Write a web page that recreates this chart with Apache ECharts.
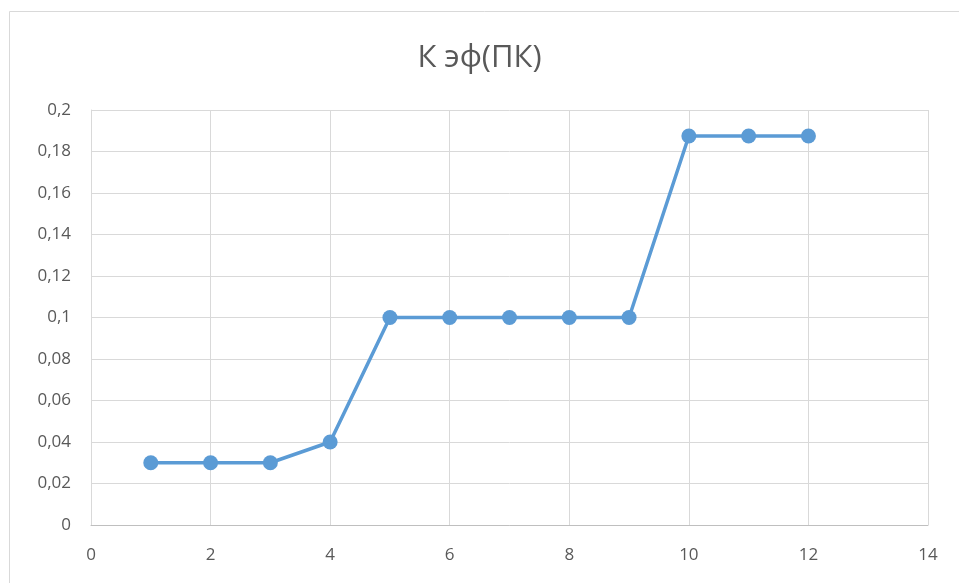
<!DOCTYPE html>
<html>
<head>
<meta charset="utf-8">
<script src="https://cdn.jsdelivr.net/npm/echarts@6/dist/echarts.min.js"></script>
<style>
  html, body { margin: 0; padding: 0; background: #fff; }
  #chart { width: 959px; height: 583px; }
</style>
</head>
<body>
<div id="chart"></div>
<script>
// values
var xValues = [1, 2, 3, 4, 5, 6, 7, 8, 9, 10, 11, 12]
var kEff = [0.03, 0.03, 0.03, 0.04, 0.1, 0.1, 0.1, 0.1, 0.1, 0.1875, 0.1875, 0.1875]
var titleText = 'К эф(ПК)'

var chart = echarts.init(document.getElementById('chart'))
var font = '"Open Sans", "Noto Sans", sans-serif'

chart.setOption({
  animation: false,
  title: {
    text: titleText,
    left: 'center',
    top: 38,
    textStyle: { fontFamily: font, fontSize: 31, fontWeight: 'normal', color: '#595959' }
  },
  graphic: [{
    type: 'rect',
    shape: { x: 9.5, y: 11.5, width: 960, height: 600 },
    style: { fill: 'none', stroke: '#d9d9d9', lineWidth: 1 },
    silent: true
  }],
  grid: { left: 91, right: 31, top: 110, bottom: 58 },
  xAxis: {
    type: 'value',
    min: 0,
    max: 14,
    interval: 2,
    axisLine: { show: true, lineStyle: { color: '#bfbfbf' } },
    axisTick: { show: false },
    axisLabel: { margin: 22, fontFamily: font, fontSize: 17, color: '#595959' },
    splitLine: { show: true, lineStyle: { color: '#d9d9d9', width: 1 } }
  },
  yAxis: {
    type: 'value',
    min: 0,
    max: 0.2,
    interval: 0.02,
    axisLine: { show: true, lineStyle: { color: '#d9d9d9' } },
    axisTick: { show: false },
    axisLabel: {
      margin: 20,
      fontFamily: font,
      fontSize: 17,
      color: '#595959',
      formatter: function (v) {
        return String(+v.toFixed(2)).replace('.', ',')
      }
    },
    splitLine: { show: true, lineStyle: { color: '#d9d9d9', width: 1 } }
  },
  series: [{
    type: 'line',
    data: xValues.map(function (x, i) { return [x, kEff[i]] }),
    symbol: 'circle',
    symbolSize: 15,
    itemStyle: { color: '#5b9bd5' },
    lineStyle: { color: '#5b9bd5', width: 3.5 }
  }]
})
</script>
</body>
</html>
